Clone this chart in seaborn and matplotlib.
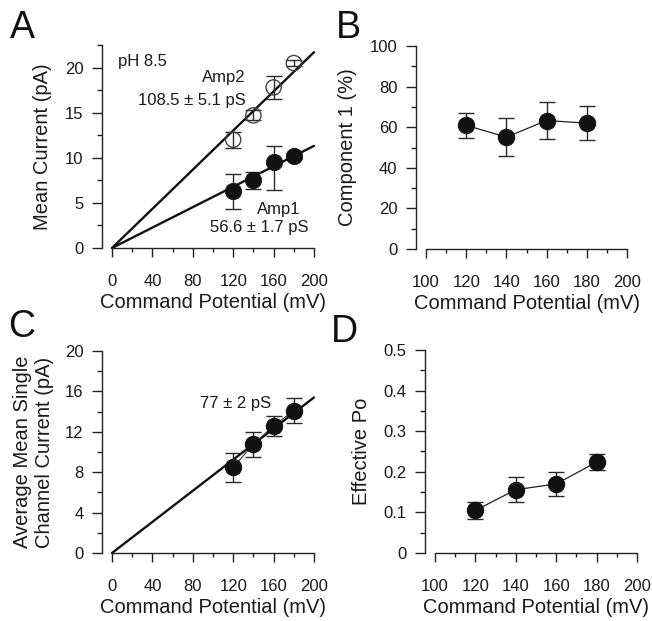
import numpy as np
import pandas as pd
import matplotlib
matplotlib.use("Agg")
import matplotlib.pyplot as plt
import seaborn as sns
from matplotlib.ticker import MultipleLocator

# ---------------- data ----------------
voltage = [120, 140, 160, 180]                     # mV
amp1_current = [6.3, 7.5, 9.5, 10.2]               # pA
amp1_err_low = [1.95, 0.95, 3.05, 0.3]
amp1_err_high = [1.95, 0.95, 1.85, 0.3]
amp2_current = [12.0, 14.7, 17.8, 20.5]
amp2_err = [0.9, 0.55, 1.25, 0.35]
amp1_conductance = 56.6                            # pS
amp2_conductance = 108.5                           # pS
component1 = [60.9, 55.1, 63.3, 62.0]              # %
component1_err = [6.3, 9.5, 8.9, 8.5]
single_current = [8.5, 10.75, 12.6, 14.1]          # pA
single_err = [1.45, 1.2, 1.0, 1.2]
single_conductance = 77                            # pS
effective_po = [0.105, 0.156, 0.170, 0.224]
po_err = [0.021, 0.030, 0.029, 0.020]
fit_voltage = [0, 200]

# ---------------- style ----------------
sns.set_theme(style="ticks")
plt.rcParams['font.family'] = ['Liberation Sans', 'DejaVu Sans']
plt.rcParams['axes.linewidth'] = 1.0

fig = plt.figure(figsize=(6.52, 6.21), dpi=100)
W, H = 652, 621

def make_ax(left, right, top, bottom):
    return fig.add_axes([left / W, 1 - bottom / H, (right - left) / W, (bottom - top) / H])

axA = make_ax(112, 314, 45, 248)
axB = make_ax(426, 627, 46, 249)
axC = make_ax(112, 314, 351, 553)
axD = make_ax(435, 637, 350, 553)

TXT = '#1a1a1a'
ERR = '#2a2a2a'
CAP = 6
MS = 11.8

def style(ax, xlim, ylim, xmaj, xmin, ymaj, ymin, ylabel, ylpad=9):
    ax.set_xlim(*xlim)
    ax.set_ylim(*ylim)
    ax.xaxis.set_major_locator(MultipleLocator(xmaj))
    ax.xaxis.set_minor_locator(MultipleLocator(xmin))
    ax.yaxis.set_major_locator(MultipleLocator(ymaj))
    ax.yaxis.set_minor_locator(MultipleLocator(ymin))
    for s in ['top', 'right']:
        ax.spines[s].set_visible(False)
    ax.spines['left'].set_position(('outward', 7.5))
    for s in ['left', 'bottom']:
        ax.spines[s].set_color('#222222')
        ax.spines[s].set_linewidth(1.0)
    ax.tick_params(axis='y', which='major', direction='out', length=7, width=1,
                   labelsize=12, pad=6, colors='#222222', labelcolor=TXT)
    ax.tick_params(axis='y', which='minor', direction='out', length=3.5, width=1,
                   colors='#222222')
    ax.tick_params(axis='x', which='major', direction='out', length=6.5, width=1,
                   labelsize=12, pad=12, colors='#222222', labelcolor=TXT)
    ax.tick_params(axis='x', which='minor', direction='out', length=3, width=1,
                   colors='#222222')
    ax.set_xlabel('Command Potential (mV)', fontsize=14.5, color=TXT, labelpad=3)
    ax.set_ylabel(ylabel, fontsize=14.5, color=TXT, labelpad=ylpad)
    ax.grid(False)

def fit_df(g):
    return pd.DataFrame({'V': fit_voltage, 'I': [g * v / 1000 for v in fit_voltage]})

# ---------------- Panel A ----------------
for g in [amp2_conductance, amp1_conductance]:
    sns.lineplot(data=fit_df(g), x='V', y='I', ax=axA, color='#111111', lw=1.7,
                 clip_on=False, zorder=2)
axA.errorbar(voltage, amp2_current, yerr=amp2_err, fmt='none', ecolor=ERR,
             elinewidth=1, capsize=CAP, capthick=1, zorder=3)
axA.errorbar(voltage, amp1_current, yerr=[amp1_err_low, amp1_err_high], fmt='none',
             ecolor=ERR, elinewidth=1, capsize=CAP, capthick=1, zorder=3)
sns.scatterplot(x=voltage, y=amp2_current, ax=axA, s=120, facecolor='none',
                edgecolor='#444444', linewidth=1.0, zorder=4)
sns.scatterplot(x=voltage, y=amp1_current, ax=axA, s=140, color='#111111',
                edgecolor='#111111', linewidth=0.5, zorder=4)
style(axA, (0, 200), (0, 22.5), 40, 20, 5, 2.5, 'Mean Current (pA)')
axA.text(6, 20.7, 'pH 8.5', fontsize=12, color=TXT, va='center', ha='left')
axA.text(132, 18.9, 'Amp2', fontsize=12, color=TXT, va='center', ha='right')
axA.text(132, 16.4, '108.5 ± 5.1 pS', fontsize=12, color=TXT, va='center', ha='right')
axA.text(187, 4.3, 'Amp1', fontsize=12, color=TXT, va='center', ha='right')
axA.text(195, 2.25, '56.6 ± 1.7 pS', fontsize=12, color=TXT, va='center', ha='right')

# ---------------- Panel B ----------------
axB.errorbar(voltage, component1, yerr=component1_err, fmt='none', ecolor=ERR,
             elinewidth=1, capsize=CAP, capthick=1, zorder=2)
sns.lineplot(x=voltage, y=component1, ax=axB, color='#222222', lw=0.9,
             marker='o', markersize=MS, markerfacecolor='#111111',
             markeredgecolor='#111111', zorder=3)
style(axB, (100, 200), (0, 100), 20, 10, 20, 10, 'Component 1 (%)')

# ---------------- Panel C ----------------
sns.lineplot(data=fit_df(single_conductance), x='V', y='I', ax=axC, color='#111111',
             lw=1.7, clip_on=False, zorder=2)
axC.errorbar(voltage, single_current, yerr=single_err, fmt='none', ecolor=ERR,
             elinewidth=1, capsize=CAP, capthick=1, zorder=3)
sns.lineplot(x=voltage, y=single_current, ax=axC, color='#333333', lw=0.8,
             marker='o', markersize=MS, markerfacecolor='#111111',
             markeredgecolor='#111111', zorder=4)
style(axC, (0, 200), (0, 20), 40, 20, 4, 2, 'Average Mean Single\nChannel Current (pA)',
      ylpad=8)
axC.text(122, 14.85, '77 ± 2 pS', fontsize=12, color=TXT, va='center', ha='center')

# ---------------- Panel D ----------------
axD.errorbar(voltage, effective_po, yerr=po_err, fmt='none', ecolor=ERR,
             elinewidth=1, capsize=CAP, capthick=1, zorder=2)
sns.lineplot(x=voltage, y=effective_po, ax=axD, color='#222222', lw=0.9,
             marker='o', markersize=MS, markerfacecolor='#111111',
             markeredgecolor='#111111', zorder=3)
style(axD, (100, 200), (0, 0.5), 20, 10, 0.1, 0.05, 'Effective Po')
axD.yaxis.set_major_formatter(matplotlib.ticker.FuncFormatter(
    lambda v, p: '0' if abs(v) < 1e-9 else f'{v:.1f}'))

# ---------------- panel letters ----------------
for lbl, x, y in [('A', 10, 38), ('B', 336, 38), ('C', 8, 337), ('D', 331, 342)]:
    fig.text(x / W, 1 - y / H, lbl, fontsize=27, color='#111111', ha='left',
             va='baseline')

fig.savefig('out.png', dpi=100)
